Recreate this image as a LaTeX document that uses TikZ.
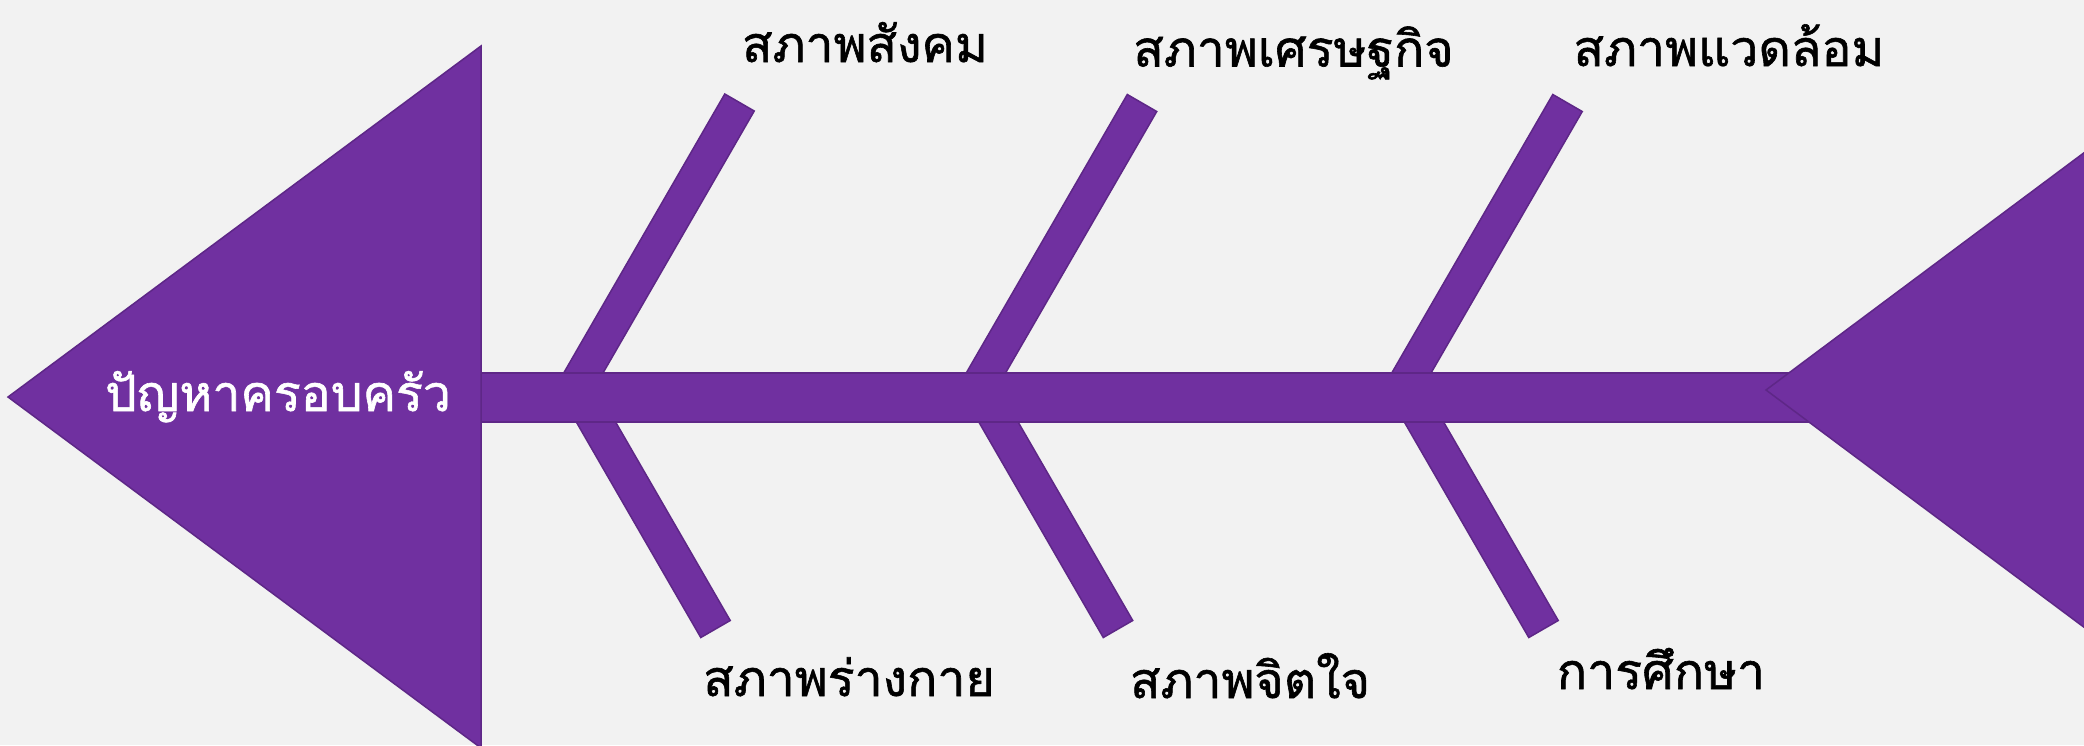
\documentclass[tikz,border=0pt]{standalone}
\usepackage{fontspec}
\newfontfamily\thaifont[Script=Thai,FakeBold=1.2]{Loma}
\usetikzlibrary{calc}
\definecolor{bgc}{HTML}{F2F2F2}
\definecolor{fishc}{HTML}{7030A0}
\definecolor{edgec}{HTML}{5E2787}
\tikzset{
  fishpart/.style={fill=fishc, draw=edgec, line width=1.5pt, line join=miter},
  lbl/.style={font=\thaifont\fontsize{50}{60}\selectfont, text=black, inner sep=0pt, anchor=base},
  headlbl/.style={lbl, text=white},
}
\newcommand\fishbonepoly[2]{%
  \path[fishpart] ($(#1)!17pt!90:(#2)$) -- ($(#2)!17pt!-90:(#1)$) -- ($(#2)!17pt!90:(#1)$) -- ($(#1)!17pt!-90:(#2)$) -- cycle;}
\begin{document}
\begin{tikzpicture}[x=1pt,y=-1pt]
  \useasboundingbox (0,0) rectangle (2084,745);
  \fill[bgc] (0,0) rectangle (2084,745);
  \clip (0,0) rectangle (2084,745);
  % bone coordinates
  \coordinate (u1e) at (739.5,102.5);
  \coordinate (u2e) at (1142,103);
  \coordinate (u3e) at (1567.5,103);
  \coordinate (u1b) at (569.2,397.5);
  \coordinate (u2b) at (971.7,397.5);
  \coordinate (u3b) at (1397.2,397.5);
  \coordinate (l1e) at (715.5,629);
  \coordinate (l2e) at (1118,629);
  \coordinate (l3e) at (1543.5,629);
  \coordinate (l1b) at (581.8,397.5);
  \coordinate (l2b) at (984.3,397.5);
  \coordinate (l3b) at (1409.8,397.5);
  % bones
  \fishbonepoly{u1b}{u1e}
  \fishbonepoly{u2b}{u2e}
  \fishbonepoly{u3b}{u3e}
  \fishbonepoly{l1b}{l1e}
  \fishbonepoly{l2b}{l2e}
  \fishbonepoly{l3b}{l3e}
  % spine
  \path[fishpart] (481,373) rectangle (1830,422);
  % head and tail
  \path[fishpart] (8,397) -- (481,46) -- (481,748) -- cycle;
  \path[fishpart] (1766,390) -- (2300,-8.4) -- (2300,788.4) -- cycle;
  % labels
  \node[headlbl] (head) at (278,411) {ปัญหาครอบครัว};
  \node[lbl] (t1) at (865,62) {สภาพสังคม};
  \node[lbl] (t2) at (1293.5,66.5) {สภาพเศรษฐกิจ};
  \node[lbl] (t3) at (1729,66) {สภาพแวดล้อม};
  \node[lbl] (b1) at (849,696) {สภาพร่างกาย};
  \node[lbl] (b2) at (1250,698) {สภาพจิตใจ};
  \node[lbl] (b3) at (1661,689) {การศึกษา};
\end{tikzpicture}
\end{document}
